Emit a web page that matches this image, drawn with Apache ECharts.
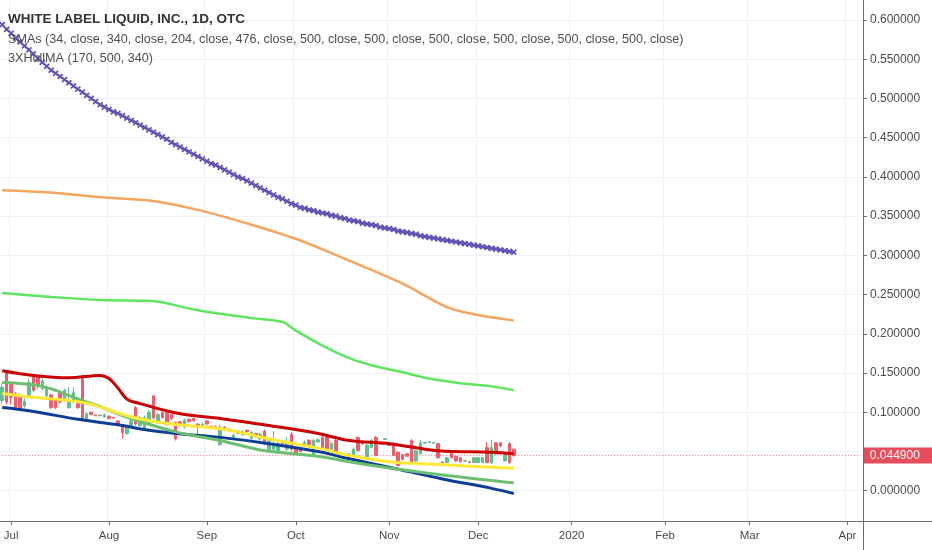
<!DOCTYPE html>
<html>
<head>
<meta charset="utf-8">
<script src="https://cdn.jsdelivr.net/npm/echarts@6.0.0/dist/echarts.min.js"></script>
<style>
html,body{margin:0;padding:0;background:#fff;}
#chart{width:932px;height:550px;}
</style>
</head>
<body>
<div id="chart"></div>
<script>
// ---- data ----
const monthNames = ['Jun','Jul','Aug','Sep','Oct','Nov','Dec','2020','Feb','Mar','Apr'];
const monthBars  = [2,22,22,20,21,20,21,21,19,22,4];
const yTicks = [0,0.05,0.1,0.15,0.2,0.25,0.3,0.35,0.4,0.45,0.5,0.55,0.6];
const yLabels = [0,0.1,0.15,0.2,0.25,0.3,0.35,0.4,0.45,0.5,0.55,0.6];
const lastPrice = 0.0449;

// [open, close, low, high]
const candles = [
[0.115,0.132,0.111,0.137],[0.151,0.113,0.110,0.153],[0.137,0.119,0.110,0.139],[0.124,0.106,0.104,0.126],
[0.121,0.105,0.103,0.124],[0.108,0.114,0.106,0.118],[0.121,0.138,0.119,0.142],[0.145,0.128,0.126,0.148],
[0.145,0.134,0.130,0.147],[0.130,0.140,0.128,0.143],[0.121,0.132,0.119,0.134],[0.122,0.106,0.104,0.124],
[0.117,0.106,0.104,0.118],[0.125,0.113,0.111,0.128],[0.115,0.128,0.113,0.130],[0.106,0.113,0.104,0.132],
[0.113,0.125,0.111,0.132],[0.111,0.106,0.104,0.113],[0.145,0.092,0.088,0.148],[0.092,0.098,0.090,0.100],
[0.100,0.097,0.096,0.101],[0.0965,0.0955,0.0955,0.0965],[0.0955,0.0965,0.095,0.097],[0.094,0.097,0.093,0.098],
[0.095,0.092,0.091,0.096],[0.0935,0.0925,0.092,0.094],[0.089,0.085,0.084,0.090],[0.083,0.074,0.066,0.084],
[0.073,0.081,0.071,0.083],[0.081,0.089,0.079,0.092],[0.106,0.085,0.083,0.108],[0.083,0.093,0.081,0.095],
[0.080,0.093,0.078,0.096],[0.087,0.100,0.085,0.103],[0.121,0.093,0.091,0.122],[0.087,0.097,0.085,0.099],
[0.100,0.093,0.092,0.101],[0.100,0.084,0.083,0.101],[0.097,0.092,0.090,0.098],[0.087,0.066,0.064,0.088],
[0.088,0.085,0.084,0.089],[0.081,0.090,0.079,0.092],[0.091,0.088,0.087,0.092],[0.092,0.089,0.088,0.093],
[0.085,0.081,0.072,0.086],[0.083,0.085,0.082,0.087],[0.089,0.085,0.084,0.090],[0.0825,0.0815,0.081,0.083],
[0.082,0.079,0.078,0.083],[0.059,0.081,0.057,0.084],[0.081,0.077,0.076,0.082],[0.0785,0.0775,0.077,0.079],
[0.068,0.071,0.066,0.073],[0.076,0.073,0.072,0.077],[0.071,0.075,0.070,0.077],[0.077,0.075,0.074,0.078],
[0.067,0.074,0.065,0.076],[0.073,0.069,0.068,0.074],[0.066,0.072,0.064,0.074],[0.076,0.060,0.058,0.078],
[0.051,0.064,0.049,0.066],[0.053,0.060,0.050,0.076],[0.051,0.060,0.049,0.062],[0.061,0.058,0.056,0.062],
[0.053,0.062,0.051,0.068],[0.072,0.053,0.050,0.075],[0.053,0.048,0.046,0.054],[0.054,0.050,0.049,0.055],
[0.058,0.062,0.056,0.064],[0.064,0.059,0.058,0.066],[0.045,0.064,0.043,0.066],[0.062,0.065,0.061,0.067],
[0.068,0.055,0.054,0.070],[0.068,0.052,0.051,0.069],[0.053,0.060,0.051,0.062],[0.064,0.045,0.044,0.066],
[0.045,0.048,0.044,0.049],[0.0455,0.0465,0.045,0.047],[0.043,0.047,0.042,0.048],[0.045,0.053,0.044,0.055],
[0.068,0.051,0.050,0.069],[0.0605,0.0595,0.059,0.061],[0.041,0.058,0.040,0.060],[0.055,0.064,0.054,0.066],
[0.068,0.045,0.044,0.070],[0.0595,0.0605,0.059,0.061],[0.0655,0.0665,0.065,0.067],[0.061,0.058,0.057,0.062],
[0.060,0.045,0.044,0.062],[0.049,0.032,0.031,0.050],[0.046,0.040,0.039,0.047],[0.047,0.044,0.043,0.048],
[0.064,0.036,0.035,0.066],[0.038,0.051,0.037,0.052],[0.047,0.061,0.046,0.065],[0.0605,0.0615,0.060,0.062],
[0.0615,0.0625,0.061,0.063],[0.0605,0.0615,0.060,0.062],[0.060,0.042,0.041,0.061],[0.0365,0.0355,0.035,0.037],
[0.036,0.042,0.035,0.043],[0.048,0.042,0.041,0.049],[0.044,0.038,0.037,0.045],[0.042,0.037,0.036,0.043],
[0.0375,0.0385,0.037,0.039],[0.037,0.036,0.035,0.038],[0.036,0.042,0.035,0.043],[0.036,0.042,0.035,0.043],
[0.036,0.042,0.035,0.043],[0.055,0.036,0.035,0.062],[0.036,0.055,0.034,0.065],[0.061,0.047,0.046,0.062],
[0.061,0.057,0.056,0.062],[0.038,0.047,0.037,0.048],[0.060,0.036,0.034,0.062],[0.053,0.0449,0.043,0.054]
];

const hullPurple = [
0.594,0.588,0.583,0.577,0.572,0.567,0.562,0.557,0.551,0.546,
0.541,0.536,0.532,0.528,0.524,0.520,0.516,0.512,0.508,0.504,
0.500,0.496,0.492,0.489,0.486,0.483,0.481,0.478,0.475,0.472,
0.469,0.466,0.463,0.460,0.457,0.454,0.451,0.448,0.444,0.441,
0.438,0.435,0.432,0.429,0.426,0.423,0.420,0.417,0.415,0.412,
0.409,0.406,0.403,0.400,0.398,0.395,0.392,0.389,0.386,0.383,
0.380,0.377,0.374,0.372,0.369,0.366,0.364,0.361,0.360,0.358,
0.357,0.355,0.354,0.353,0.351,0.350,0.348,0.347,0.345,0.344,
0.343,0.341,0.340,0.339,0.338,0.336,0.335,0.334,0.333,0.331,
0.330,0.329,0.328,0.327,0.325,0.324,0.323,0.322,0.321,0.320,
0.319,0.318,0.317,0.316,0.315,0.314,0.313,0.312,0.311,0.310,
0.309,0.308,0.307,0.306,0.305,0.304
];

// [bar index, value]
const smaOrange = [[0,0.383],[11,0.380],[22,0.374],[33,0.370],[44,0.358],[56,0.339],[67,0.319],[76,0.298],[90,0.264],[100,0.234],[106,0.225],[115,0.217]];
const smaLime   = [[0,0.252],[11,0.247],[22,0.243],[33,0.242],[44,0.230],[56,0.220],[63,0.215],[66,0.204],[72,0.185],[78,0.169],[83,0.160],[90,0.151],[96,0.143],[103,0.137],[110,0.133],[115,0.128]];
const smaRed    = [[0,0.153],[7,0.147],[15,0.144],[22,0.147],[24,0.143],[26,0.131],[28,0.117],[31,0.111],[40,0.098],[49,0.092],[60,0.083],[71,0.073],[78,0.064],[87,0.060],[98,0.051],[110,0.049],[115,0.047]];
const smaYellow = [[0,0.124],[7,0.119],[15,0.115],[20,0.110],[29,0.094],[38,0.085],[49,0.079],[60,0.066],[72,0.053],[77,0.046],[87,0.037],[99,0.033],[115,0.0285]];
const smaGreen  = [[0,0.138],[9,0.133],[18,0.115],[22,0.107],[29,0.092],[39,0.075],[49,0.064],[58,0.052],[72,0.043],[78,0.037],[87,0.029],[99,0.020],[115,0.010]];
const smaBlue   = [[0,0.106],[6,0.102],[17,0.091],[26,0.084],[33,0.077],[39,0.073],[49,0.068],[60,0.060],[72,0.049],[77,0.042],[87,0.030],[99,0.015],[110,0.003],[115,-0.0035]];

const titleText = 'WHITE LABEL LIQUID, INC., 1D, OTC';
const smaText = 'SMAs (34, close, 340, close, 204, close, 476, close, 500, close, 500, close, 500, close, 500, close, 500, close, 500, close)';
const hullText = '3XHullMA (170, 500, 340)';

// ---- build axis categories ----
const categories = [];
const monthStart = [];
monthNames.forEach((m, mi) => {
  for (let j = 0; j < monthBars[mi]; j++) {
    categories.push(m + ' ' + (j + 1));
    monthStart.push(j === 0 && mi > 0);
  }
});
const isMonth = (i) => monthStart[i];
const lastIdx = categories.length - 1;

const FONT = 'Liberation Sans, Arial, sans-serif';
const gridColor = '#eef1f6';
const axisColor = '#6a6d78';

const chart = echarts.init(document.getElementById('chart'), null, {renderer: 'canvas'});

function lineSeries(data, color, width, extra) {
  return Object.assign({type: 'line', data: data, showSymbol: false, smooth: 0.35, z: 3,
    lineStyle: {color: color, width: width}, silent: true}, extra || {});
}

chart.setOption({
  animation: false,
  backgroundColor: '#ffffff',
  textStyle: {fontFamily: FONT},
  title: [
    {text: titleText, left: 8, top: 12, padding: 0, textStyle: {fontSize: 13.5, fontWeight: 'bold', color: '#333333', fontFamily: FONT}},
    {text: smaText, left: 8, top: 33, padding: 0, textStyle: {fontSize: 12.6, fontWeight: 'normal', color: '#4f4f4f', fontFamily: FONT}},
    {text: hullText, left: 8, top: 52, padding: 0, textStyle: {fontSize: 12.6, fontWeight: 'normal', color: '#4f4f4f', fontFamily: FONT}}
  ],
  grid: {left: 0, right: 69, top: 0, bottom: 29, containLabel: false},
  xAxis: {
    type: 'category',
    data: categories,
    boundaryGap: true,
    axisLine: {show: true, onZero: false, lineStyle: {color: axisColor, width: 1}},
    axisTick: {show: true, interval: isMonth, alignWithLabel: true, length: 4, lineStyle: {color: axisColor}},
    axisLabel: {show: true, interval: isMonth, formatter: (v) => v.split(' ')[0], color: '#4a4a4a', fontSize: 11.5, margin: 9, fontFamily: FONT},
    splitLine: {show: true, interval: isMonth, lineStyle: {color: gridColor, width: 1}}
  },
  yAxis: {
    type: 'value',
    position: 'right',
    min: -0.0386,
    max: 0.6255,
    axisLine: {show: true, lineStyle: {color: axisColor, width: 1}},
    axisTick: {show: true, length: 4, customValues: yTicks, lineStyle: {color: axisColor}},
    axisLabel: {show: true, customValues: yLabels, formatter: (v) => v.toFixed(6), color: '#4a4a4a', fontSize: 12, margin: 7, fontFamily: FONT},
    splitLine: {show: true, lineStyle: {color: gridColor, width: 1}}
  },
  graphic: [
    {type: 'line', shape: {x1: 863.5, y1: 0, x2: 863.5, y2: 550}, style: {stroke: axisColor, lineWidth: 1}, z: 100, silent: true},
    {type: 'line', shape: {x1: 0, y1: 521.5, x2: 932, y2: 521.5}, style: {stroke: axisColor, lineWidth: 1}, z: 100, silent: true}
  ],
  series: [
    {
      type: 'candlestick',
      data: candles,
      barWidth: 3,
      z: 1,
      silent: true,
      itemStyle: {color: '#5cbd8b', color0: '#ec5a66', borderColor: '#5cbd8b', borderColor0: '#ec5a66', borderWidth: 1, opacity: 0.95}
    },
    {
      type: 'line',
      data: [[0, lastPrice], [lastIdx, lastPrice]],
      showSymbol: false,
      silent: true,
      z: 2,
      clip: false,
      lineStyle: {color: '#ef6f7a', type: [1, 2], width: 1},
      endLabel: {show: true, formatter: () => lastPrice.toFixed(6), distance: 0, offset: [3, 0],
        backgroundColor: '#e84c5c', color: '#ffffff', fontSize: 12, padding: [2, 14, 2, 6], fontFamily: FONT}
    },
    lineSeries(smaOrange, '#f6a55f', 2.5),
    lineSeries(smaLime, '#5ee65e', 2.5),
    lineSeries(smaBlue, '#0e3d98', 3),
    lineSeries(smaGreen, '#6cbf70', 3),
    lineSeries(smaYellow, '#ffe838', 3),
    lineSeries(smaRed, '#cc0000', 3),
    {
      type: 'line',
      data: hullPurple,
      z: 4,
      silent: true,
      showAllSymbol: true,
      symbol: 'path://M3,0H5V3H8V5H5V8H3V5H0V3H3Z',
      symbolSize: 7,
      symbolRotate: 45,
      itemStyle: {color: '#5e50b5'},
      lineStyle: {color: '#5e50b5', width: 1.5}
    }
  ]
});
</script>
</body>
</html>
